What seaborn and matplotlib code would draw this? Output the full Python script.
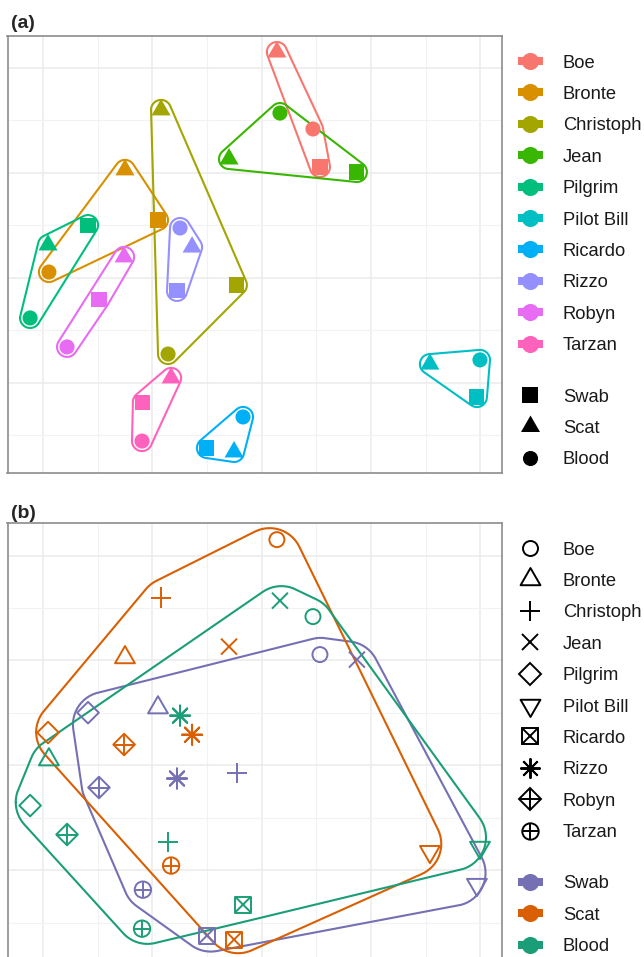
import numpy as np
import pandas as pd
import matplotlib
matplotlib.use("Agg")
import matplotlib.pyplot as plt
import seaborn as sns
from matplotlib.lines import Line2D
from matplotlib.path import Path

# DATA: NMDS scores, one list per sample type, in the order of `animals`
animals = ["Boe", "Bronte", "Christoph", "Jean", "Pilgrim",
           "Pilot Bill", "Ricardo", "Rizzo", "Robyn", "Tarzan"]
samples = ["Swab", "Scat", "Blood"]

swab_x = [0.267, -0.474, -0.113, 0.436, -0.794, 0.985, -0.250, -0.387, -0.744, -0.543]
swab_y = [0.528, 0.275, -0.035, 0.504, 0.251, -0.569, -0.812, -0.063, -0.106, -0.593]
scat_x = [0.070, -0.625, -0.460, -0.149, -0.977, 0.770, -0.126, -0.318, -0.629, -0.414]
scat_y = [1.076, 0.514, 0.800, 0.566, 0.156, -0.412, -0.831, 0.146, 0.099, -0.478]
blood_x = [0.235, -0.973, -0.428, 0.084, -1.059, 0.999, -0.085, -0.373, -0.890, -0.547]
blood_y = [0.709, 0.027, -0.364, 0.785, -0.192, -0.392, -0.664, 0.237, -0.330, -0.779]

animal_colors = ["#F8766D", "#D89000", "#A3A500", "#39B600", "#00BF7D",
                 "#00BFC4", "#00B0F6", "#9590FF", "#E76BF3", "#FF62BC"]
sample_colors = ["#7570B3", "#D95F02", "#1B9E77"]

df = pd.DataFrame({
    "animal": animals * 3,
    "sample": [s for s in samples for _ in animals],
    "NMDS1": swab_x + scat_x + blood_x,
    "NMDS2": swab_y + scat_y + blood_y,
})

XLIM = (-1.1624, 1.0975)
YLIM = (-0.9298, 1.1539)

sns.set_theme(style="white")
plt.rcParams["font.family"] = ["Liberation Sans", "DejaVu Sans"]

W, H = 644, 957
fig = plt.figure(figsize=(W / 100, H / 100), dpi=100)


def fx(px):
    return px / W


def fy(py):
    return 1 - py / H


# --- hull helpers (work in pixels so the margin is the same in x and y)
def convex_hull(pts):
    pts = sorted(map(tuple, pts))

    def cross(o, a, b):
        return (a[0] - o[0]) * (b[1] - o[1]) - (a[1] - o[1]) * (b[0] - o[0])
    lower, upper = [], []
    for p in pts:
        while len(lower) >= 2 and cross(lower[-2], lower[-1], p) <= 0:
            lower.pop()
        lower.append(p)
    for p in reversed(pts):
        while len(upper) >= 2 and cross(upper[-2], upper[-1], p) <= 0:
            upper.pop()
        upper.append(p)
    return np.array(lower[:-1] + upper[:-1])


def clip_halfplane(poly, n, c):
    out = []
    for i in range(len(poly)):
        p, q = poly[i], poly[(i + 1) % len(poly)]
        dp, dq = n @ p - c, n @ q - c
        if dp <= 0:
            out.append(p)
        if dp * dq < 0:
            out.append(p + dp / (dp - dq) * (q - p))
    return np.array(out)


def shrink_hull(hull, d):
    poly = hull.copy()
    for i in range(len(hull)):
        a, b = hull[i], hull[(i + 1) % len(hull)]
        e = b - a
        n = np.array([e[1], -e[0]]) / np.hypot(*e)
        poly = clip_halfplane(poly, n, n @ a - d)
        if len(poly) < 3:
            return None
    return poly


def hull_outline(ax, sub, expand, radius):
    pts = ax.transData.transform(sub[["NMDS1", "NMDS2"]].to_numpy())
    hull = convex_hull(pts)
    core, r = hull, expand
    if radius > expand:
        poly = shrink_hull(hull, radius - expand)
        if poly is not None:
            core, r = poly, radius
    ang = np.linspace(0, 2 * np.pi, 120, endpoint=False)
    circ = np.column_stack([np.cos(ang), np.sin(ang)]) * r
    cloud = (core[:, None, :] + circ[None, :, :]).reshape(-1, 2)
    out = convex_hull(cloud)
    out = np.vstack([out, out[:1]])
    return ax.transData.inverted().transform(out)


def draw_hull(ax, sub, color, expand, radius, lw=1.5):
    c = hull_outline(ax, sub, expand, radius)
    ax.plot(c[:, 0], c[:, 1], color=color, lw=lw, zorder=2)


def style_panel(ax):
    ax.set_xlim(XLIM)
    ax.set_ylim(YLIM)
    ax.set_xticks([-1.0, -0.5, 0.0, 0.5, 1.0])
    ax.set_xticks([-0.75, -0.25, 0.25, 0.75], minor=True)
    ax.set_yticks([-0.5, 0.0, 0.5, 1.0])
    ax.set_yticks([-0.75, -0.25, 0.25, 0.75], minor=True)
    ax.grid(True, which="major", color="#EBEBEB", lw=1.1, zorder=0)
    ax.grid(True, which="minor", color="#F2F2F2", lw=0.8, zorder=0)
    ax.tick_params(which="both", length=0, labelbottom=False, labelleft=False)
    ax.set_xlabel("")
    ax.set_ylabel("")
    for sp in ax.spines.values():
        sp.set_visible(True)
        sp.set_color("#8C8C8C")
        sp.set_linewidth(1.2)
    ax.set_axisbelow(True)


tri_up = Path([(0, 1), (-0.866, -0.5), (0.866, -0.5), (0, 1)], closed=True)
tri_dn = Path([(0, -1), (-0.866, 0.5), (0.866, 0.5), (0, -1)], closed=True)
LINE_MARKERS = {"+", "x", (8, 2, 0)}

# ---------------- panel (a)
axa = fig.add_axes([fx(7.5), fy(472.7), fx(494), 437 / H])
style_panel(axa)
for i, a in enumerate(animals):
    draw_hull(axa, df[df["animal"] == a], animal_colors[i], expand=10, radius=10)

a_markers = {"Swab": ("s", 118), "Scat": (tri_up, 250), "Blood": ("o", 118)}
for smp in samples:
    mk, size = a_markers[smp]
    sns.scatterplot(data=df[df["sample"] == smp], x="NMDS1", y="NMDS2",
                    hue="animal", hue_order=animals, palette=animal_colors,
                    marker=mk, s=size, linewidth=0, legend=False, ax=axa, zorder=3)
style_panel(axa)

# ---------------- panel (b)
axb = fig.add_axes([fx(7.5), fy(960.3), fx(494), 437 / H])
style_panel(axb)
for j, smp in enumerate(samples):
    draw_hull(axb, df[df["sample"] == smp], sample_colors[j], expand=17, radius=33)

# each animal: list of (marker, size in pt) layers, all hollow
b_markers = {
    "Boe": [("o", 10.8)],
    "Bronte": [(tri_up, 16.5)],
    "Christoph": [("+", 14.5)],
    "Jean": [("x", 11.5)],
    "Pilgrim": [("D", 11.0)],
    "Pilot Bill": [(tri_dn, 16.5)],
    "Ricardo": [("s", 11.5), ("x", 11.5)],
    "Rizzo": [((8, 2, 0), 14.5)],
    "Robyn": [("D", 11.0), ("+", 15.5)],
    "Tarzan": [("o", 11.8), ("+", 11.8)],
}
scol = dict(zip(samples, sample_colors))
for a in animals:
    sub = df[df["animal"] == a]
    cols = [scol[s] for s in sub["sample"]]
    for mk, ms in b_markers[a]:
        if isinstance(mk, Path) or mk not in LINE_MARKERS:
            axb.scatter(sub["NMDS1"], sub["NMDS2"], marker=mk, s=ms ** 2,
                        facecolors="none", edgecolors=cols, linewidths=1.4, zorder=3)
        else:
            axb.scatter(sub["NMDS1"], sub["NMDS2"], marker=mk, s=ms ** 2,
                        c=cols, linewidths=1.4, zorder=3)
style_panel(axb)

# ---------------- panel tags
fig.text(fx(11), fy(27.6), "(a)", fontsize=14, fontweight="bold", va="baseline")
fig.text(fx(11), fy(517.6), "(b)", fontsize=14, fontweight="bold", va="baseline")

# ---------------- legends (drawn by hand at the right)
KX, TX = 530, 563
FS = 13.2


def legend_text(py, label):
    fig.text(fx(TX), fy(py + 6.6), label, fontsize=FS, va="baseline", color="#1A1A1A")


def colour_key(py, color):
    fig.add_artist(Line2D([fx(517.5), fx(542.5)], [fy(py), fy(py)], lw=5.8,
                          color=color, solid_capstyle="butt", transform=fig.transFigure))
    fig.add_artist(Line2D([fx(KX)], [fy(py)], marker="o", ms=12.3, mew=0,
                          color=color, transform=fig.transFigure))


def shape_key(py, layers, filled):
    for mk, m in layers:
        fig.add_artist(Line2D([fx(KX)], [fy(py)], marker=mk, ms=m,
                              mfc="black" if filled else "none", mec="black",
                              mew=0 if filled else 1.4, color="black",
                              transform=fig.transFigure))


rows_a = [61 + 31.4 * i for i in range(10)]
for i, a in enumerate(animals):
    colour_key(rows_a[i], animal_colors[i])
    legend_text(rows_a[i], a)
shape_rows_a = [395, 426, 457.7]
for smp, py in zip(samples, shape_rows_a):
    mk, size = a_markers[smp]
    shape_key(py, [(mk, np.sqrt(size))], True)
    legend_text(py, smp)

rows_b = [548 + 31.4 * i for i in range(10)]
for i, a in enumerate(animals):
    shape_key(rows_b[i], b_markers[a], False)
    legend_text(rows_b[i], a)
colour_rows_b = [881.7, 913, 944.5]
for smp, col, py in zip(samples, sample_colors, colour_rows_b):
    colour_key(py, col)
    legend_text(py, smp)

fig.savefig("out.png", dpi=100)
